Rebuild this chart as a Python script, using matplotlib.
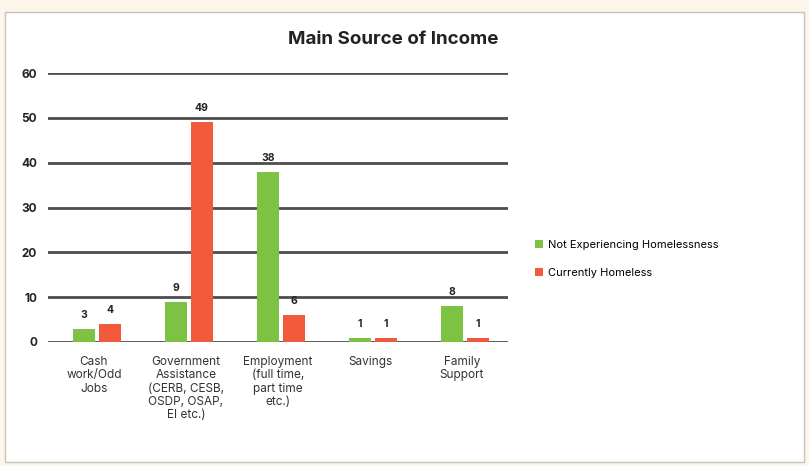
import matplotlib.pyplot as plt
from matplotlib.patches import Rectangle
import numpy as np

plt.rcParams['font.family'] = ['Inter', 'DejaVu Sans']

# datos
categorias = ['Cash\nwork/Odd\nJobs',
              'Government\nAssistance\n(CERB, CESB,\nOSDP, OSAP,\nEI etc.)',
              'Employment\n(full time,\npart time\netc.)',
              'Savings',
              'Family\nSupport']
no_homeless = [3, 9, 38, 1, 8]
homeless = [4, 49, 6, 1, 1]
series = ['Not Experiencing Homelessness', 'Currently Homeless']
yticks = [0, 10, 20, 30, 40, 50, 60]

verde = '#7dc242'
rojo = '#f15a3a'

fig = plt.figure(figsize=(8.09, 4.66), dpi=100)
fig.patch.set_facecolor('#fdf4ea')
# panel blanco con borde
fig.add_artist(Rectangle((5 / 809, 4 / 466), 799 / 809, 450 / 466,
                         transform=fig.transFigure, facecolor='white',
                         edgecolor='#c8c2ba', lw=1, zorder=0))

ax = fig.add_axes([48 / 809, 124 / 466, 460 / 809, 269 / 466])
ax.set_facecolor('none')

x = np.arange(len(categorias))
w = 0.24
b1 = ax.bar(x - 0.11, no_homeless, w, color=verde, label=series[0], zorder=3)
b2 = ax.bar(x + 0.17, homeless, w, color=rojo, label=series[1], zorder=3)

for barras in (b1, b2):
    for b in barras:
        ax.text(b.get_x() + b.get_width() / 2, b.get_height() + 2.0,
                str(int(b.get_height())), ha='center', va='bottom',
                fontsize=7.5, fontweight='bold', color='#222222')

ax.set_xlim(-0.5, 4.5)
ax.set_ylim(0, 60)
ax.set_yticks(yticks)
ax.set_yticklabels([str(t) for t in yticks], fontsize=8.5, fontweight='bold',
                   color='#222222')
ax.yaxis.grid(True, color='#4d4d4d', lw=2, zorder=1)
ax.set_xticks(x)
ax.set_xticklabels(categorias, fontsize=8.5, color='#333333', linespacing=1.15)
ax.tick_params(axis='both', length=0)
ax.tick_params(axis='y', pad=8)
ax.tick_params(axis='x', pad=10)
for s in ax.spines.values():
    s.set_visible(False)

fig.text(393 / 809, 1 - 40 / 466, 'Main Source of Income', ha='center',
         va='center', fontsize=13.5, fontweight='bold', color='#222222')

fig.legend(handles=[b1, b2], loc='center left',
           bbox_to_anchor=(525 / 809, 1 - 259 / 466), frameon=False,
           fontsize=8, handlelength=0.7, handleheight=0.7,
           labelspacing=1.6, handletextpad=0.5)

fig.savefig('out.png', dpi=100)
